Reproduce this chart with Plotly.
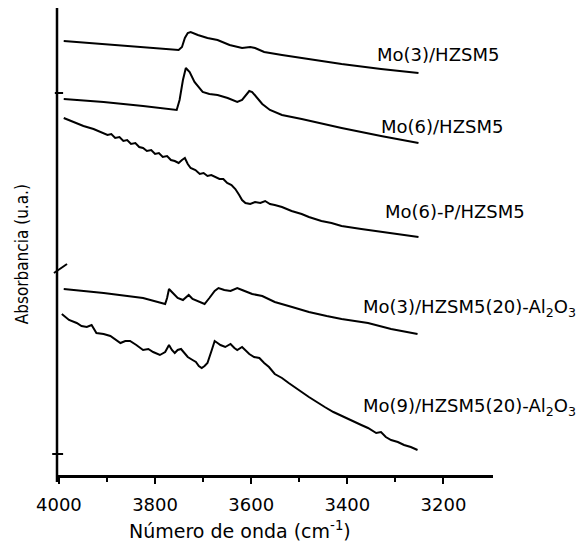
import plotly.graph_objects as go

# FTIR spectra in the OH-stretching region (wavenumber in cm-1, absorbance in a.u., offset per sample)

wn_mo3 = [3990, 3907, 3825, 3751, 3744, 3738, 3732, 3726, 3711, 3691, 3670, 3645, 3619,
          3602, 3592, 3573, 3536, 3495, 3412, 3330, 3252]
abs_mo3 = [4.34, 4.31, 4.28, 4.25, 4.28, 4.37, 4.42, 4.43, 4.40, 4.37, 4.35, 4.30, 4.27,
           4.28, 4.27, 4.23, 4.20, 4.17, 4.11, 4.06, 4.02]

wn_mo6 = [3990, 3907, 3825, 3755, 3749, 3742, 3736, 3728, 3718, 3701, 3687, 3670, 3649,
          3629, 3619, 3610, 3604, 3598, 3588, 3577, 3561, 3536, 3495, 3412, 3330, 3252]
abs_mo6 = [3.76, 3.73, 3.69, 3.65, 3.75, 3.95, 4.07, 4.03, 3.93, 3.83, 3.81, 3.80, 3.77,
           3.73, 3.75, 3.80, 3.84, 3.83, 3.77, 3.71, 3.65, 3.60, 3.56, 3.47, 3.39, 3.32]

wn_mo6p = [3990, 3969, 3949, 3928, 3907, 3899, 3891, 3883, 3874, 3866, 3858, 3850, 3841,
           3833, 3825, 3817, 3808, 3800, 3792, 3784, 3775, 3767, 3759, 3751, 3744, 3738,
           3732, 3726, 3716, 3707, 3699, 3691, 3683, 3674, 3666, 3658, 3650, 3641, 3633,
           3625, 3619, 3612, 3602, 3592, 3581, 3571, 3561, 3551, 3536, 3516, 3495, 3480,
           3454, 3433, 3412, 3371, 3330, 3289, 3252]
abs_mo6p = [3.57, 3.53, 3.49, 3.46, 3.42, 3.40, 3.41, 3.37, 3.38, 3.34, 3.35, 3.31, 3.32,
            3.28, 3.27, 3.24, 3.25, 3.21, 3.22, 3.18, 3.19, 3.15, 3.14, 3.12, 3.15, 3.17,
            3.11, 3.07, 3.05, 3.01, 3.02, 2.99, 3.00, 2.98, 2.96, 2.96, 2.92, 2.90, 2.86,
            2.80, 2.75, 2.72, 2.71, 2.73, 2.72, 2.74, 2.71, 2.70, 2.68, 2.64, 2.61, 2.58,
            2.54, 2.52, 2.49, 2.46, 2.43, 2.40, 2.38]

wn_mo3al = [3990, 3907, 3825, 3779, 3775, 3771, 3763, 3753, 3742, 3736, 3730, 3722, 3709,
            3697, 3687, 3676, 3668, 3656, 3643, 3629, 3619, 3598, 3577, 3551, 3515, 3480,
            3443, 3412, 3357, 3309, 3254]
abs_mo3al = [1.86, 1.82, 1.77, 1.71, 1.77, 1.86, 1.82, 1.77, 1.75, 1.78, 1.80, 1.76, 1.73,
             1.71, 1.77, 1.84, 1.87, 1.85, 1.84, 1.87, 1.85, 1.81, 1.79, 1.73, 1.68, 1.63,
             1.59, 1.56, 1.52, 1.46, 1.41]

wn_mo9al = [3994, 3979, 3963, 3953, 3942, 3932, 3922, 3907, 3893, 3882, 3872, 3862, 3852,
            3839, 3825, 3814, 3804, 3790, 3779, 3771, 3765, 3759, 3753, 3746, 3738, 3732,
            3722, 3715, 3709, 3703, 3697, 3691, 3682, 3676, 3670, 3664, 3654, 3643, 3635,
            3629, 3619, 3610, 3604, 3594, 3583, 3573, 3563, 3551, 3542, 3536, 3522, 3509,
            3495, 3480, 3464, 3447, 3429, 3412, 3392, 3371, 3357, 3340, 3330, 3320, 3309,
            3295, 3282, 3268, 3254]
abs_mo9al = [1.61, 1.55, 1.52, 1.49, 1.48, 1.50, 1.42, 1.41, 1.39, 1.35, 1.32, 1.34, 1.34,
             1.30, 1.25, 1.26, 1.23, 1.20, 1.23, 1.30, 1.25, 1.22, 1.25, 1.26, 1.21, 1.18,
             1.15, 1.13, 1.09, 1.07, 1.09, 1.12, 1.25, 1.34, 1.32, 1.30, 1.28, 1.31, 1.27,
             1.25, 1.28, 1.24, 1.21, 1.18, 1.17, 1.12, 1.08, 1.01, 0.99, 0.97, 0.92, 0.88,
             0.83, 0.78, 0.73, 0.68, 0.63, 0.59, 0.55, 0.50, 0.47, 0.42, 0.43, 0.38, 0.35,
             0.33, 0.30, 0.28, 0.25]

sample_names = ["Mo(3)/HZSM5", "Mo(6)/HZSM5", "Mo(6)-P/HZSM5",
                "Mo(3)/HZSM5(20)-Al<sub>2</sub>O<sub>3</sub>",
                "Mo(9)/HZSM5(20)-Al<sub>2</sub>O<sub>3</sub>"]
label_wn = [3342, 3334, 3326, 3371, 3371]
label_abs = [4.21, 3.49, 2.64, 1.67, 0.68]

x_ticks = [4000, 3800, 3600, 3400, 3200]

series = [(wn_mo3, abs_mo3), (wn_mo6, abs_mo6), (wn_mo6p, abs_mo6p),
          (wn_mo3al, abs_mo3al), (wn_mo9al, abs_mo9al)]

fig = go.Figure()
for (wn, ab), name in zip(series, sample_names):
    fig.add_trace(go.Scatter(x=wn, y=ab, mode="lines", name=name,
                             line=dict(color="black", width=2), showlegend=False))

txt_font = dict(family="DejaVu Sans", size=18, color="black")
for name, xw, ya in zip(sample_names, label_wn, label_abs):
    fig.add_annotation(x=xw, y=ya, xref="x", yref="y", text=name, showarrow=False,
                       xanchor="left", yanchor="middle", font=txt_font)

# axis titles
fig.add_annotation(x=0.42, y=-0.118, xref="paper", yref="paper",
                   text="Número de onda (cm<sup>-1</sup>)", showarrow=False,
                   xanchor="center", yanchor="middle",
                   font=dict(family="DejaVu Sans", size=19, color="black"))
fig.add_annotation(x=-0.081, y=0.472, xref="paper", yref="paper",
                   text="Absorbancia (u.a.)", showarrow=False, textangle=-90,
                   xanchor="center", yanchor="middle",
                   font=dict(family="DejaVu Sans Condensed, Liberation Sans Narrow, DejaVu Sans",
                             size=17, color="black"))

# vertical axis line and its marks
shapes = [
    dict(type="line", xref="paper", yref="paper", x0=0, x1=0, y0=-0.015, y1=1.0,
         line=dict(color="black", width=2.5)),
    dict(type="line", xref="paper", yref="y", x0=-0.005, x1=0.014, y0=3.82, y1=3.82,
         line=dict(color="black", width=2)),
    dict(type="line", xref="paper", yref="y", x0=-0.011, x1=0.014, y0=0.21, y1=0.21,
         line=dict(color="black", width=2)),
    dict(type="line", xref="paper", yref="y", x0=-0.007, x1=0.023, y0=2.02, y1=2.11,
         line=dict(color="black", width=2)),
]

fig.update_layout(
    width=578, height=550,
    margin=dict(l=57, r=85, t=8, b=75),
    paper_bgcolor="white", plot_bgcolor="white",
    shapes=shapes,
    xaxis=dict(range=[4004, 3097], tickvals=x_ticks, ticks="outside", ticklen=6,
               tickwidth=2, tickcolor="black", showgrid=False, zeroline=False,
               showline=True, linecolor="black", linewidth=2.5,
               ticklabelstandoff=6,
               tickfont=dict(family="DejaVu Sans", size=18, color="black"),
               minor=dict(tickvals=[3900, 3700, 3500, 3300], ticks="outside",
                          ticklen=4, tickwidth=2, tickcolor="black")),
    yaxis=dict(range=[0, 4.67], showticklabels=False, showgrid=False, zeroline=False,
               showline=False, ticks=""),
)

fig.write_html("out.html")
